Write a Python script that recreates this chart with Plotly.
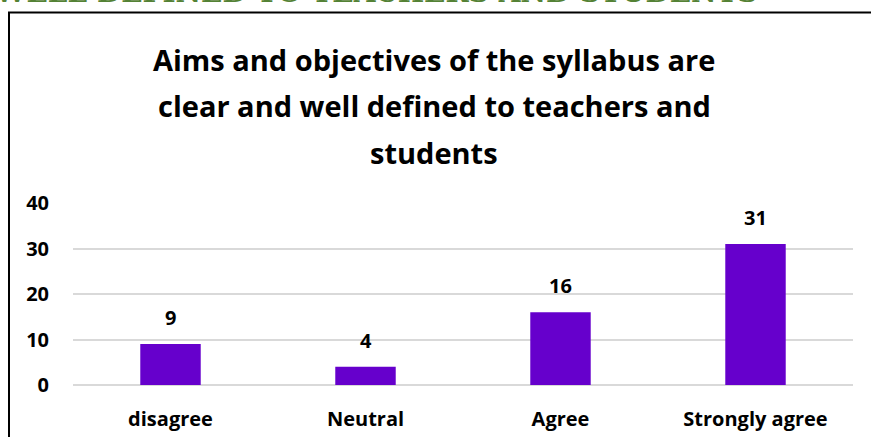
import plotly.graph_objects as go

categories = ["disagree", "Neutral", "Agree", "Strongly agree"]
values = [9, 4, 16, 31]
y_ticks = [0, 10, 20, 30, 40]
title_lines = [
    "Aims and objectives of the syllabus are",
    "clear and well defined to teachers and",
    "students",
]
header_text = "WELL DEFINED TO TEACHERS AND STUDENTS"

FONT = "Open Sans"
BAR_COLOR = "#6600CC"

fig = go.Figure()
fig.add_trace(go.Bar(
    x=categories, y=values,
    marker=dict(color=BAR_COLOR, line=dict(width=0)),
    width=0.31,
    hoverinfo="x+y",
))

W, H = 871, 437
L, R, T, B = 73, 18, 203, 52
PH = H - T - B
PW = W - L - R

def py(p):
    return (H - B - p) / PH

def px(p):
    return (p - L) / PW

annotations = []
for c, v in zip(categories, values):
    annotations.append(dict(
        x=c, y=v, xref="x", yref="y", text=f"<b>{v}</b>", showarrow=False,
        yanchor="bottom", yshift=11,
        font=dict(family=FONT, size=20, color="#000000"),
    ))

title_y = [59, 106, 152]
for line, yy in zip(title_lines, title_y):
    annotations.append(dict(
        x=px(434), y=py(yy), xref="paper", yref="paper", text=f"<b>{line}</b>",
        showarrow=False, xanchor="center", yanchor="middle",
        font=dict(family=FONT, size=29, color="#000000"),
    ))

annotations.append(dict(
    x=px(-8), y=py(-8), xref="paper", yref="paper", text=f"<b>{header_text}</b>",
    showarrow=False, xanchor="left", yanchor="middle",
    font=dict(family="DejaVu Serif", size=28, color="#548235"),
))

fig.update_layout(
    width=W, height=H,
    margin=dict(l=L, r=R, t=T, b=B, pad=0, autoexpand=False),
    paper_bgcolor="white", plot_bgcolor="white",
    showlegend=False,
    bargap=0.69,
    xaxis=dict(
        automargin=False,
        showgrid=False, showline=False, zeroline=False, ticks="",
        tickfont=dict(family=FONT, size=20, color="#000000", weight="bold"),
        ticklabelstandoff=20,
    ),
    yaxis=dict(
        automargin=False,
        range=[0, 40], tickvals=y_ticks,
        showgrid=True, gridcolor="#d9d9d9", gridwidth=1.5,
        zeroline=True, zerolinecolor="#d9d9d9", zerolinewidth=1.5,
        showline=False, ticks="",
        tickfont=dict(family=FONT, size=20, color="#000000", weight="bold"),
        ticklabelstandoff=23,
    ),
    annotations=annotations,
    shapes=[dict(
        type="rect", xref="paper", yref="paper",
        x0=px(9), x1=px(890), y0=py(460), y1=py(12.5),
        line=dict(color="#000000", width=2), fillcolor="rgba(0,0,0,0)", layer="above",
    )],
)

fig.write_html("out.html", config={"displayModeBar": False},
               post_script="document.body.style.margin='0px';")
